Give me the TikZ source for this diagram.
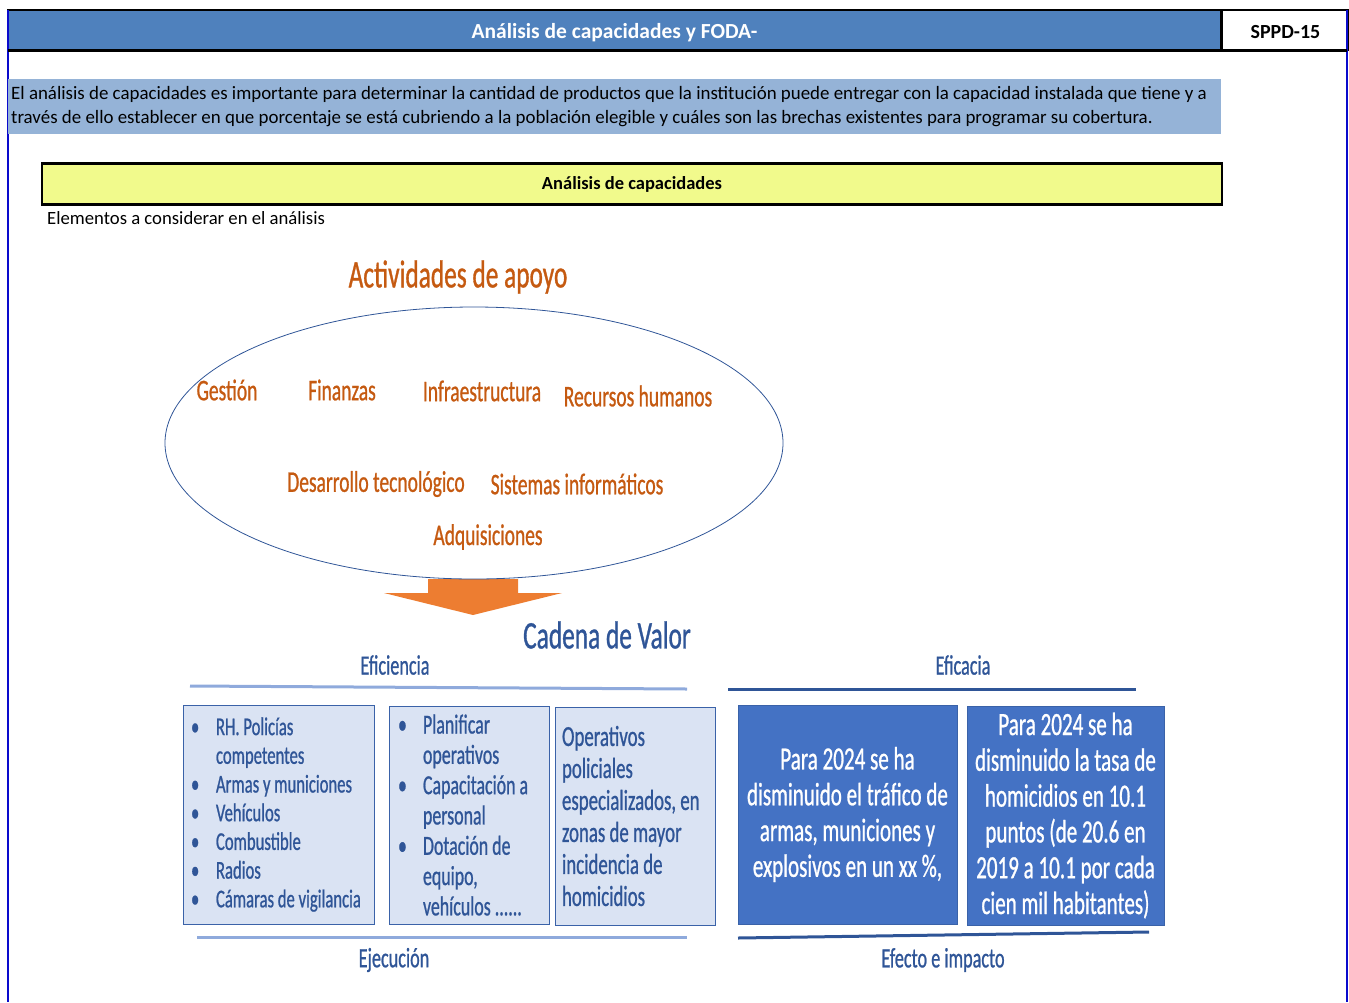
\documentclass[tikz,border=0pt]{standalone}
\usepackage{fontspec}
\setmainfont{Carlito}
\newfontfamily\narrowfont[FakeStretch=0.65,FakeBold=0.8]{Carlito}
\usetikzlibrary{shapes.geometric,positioning}
\definecolor{headblue}{HTML}{4F81BD}
\definecolor{parablue}{HTML}{95B3D7}
\definecolor{yellowfill}{HTML}{F1FA8C}
\definecolor{frameblue}{HTML}{0A0ACC}
\definecolor{orangetxt}{HTML}{C55A11}
\definecolor{arroworange}{HTML}{ED7D31}
\definecolor{ellipseblue}{HTML}{2F5597}
\definecolor{bluetxt}{HTML}{2F5597}
\definecolor{lightline}{HTML}{8FAADC}
\definecolor{lightfill}{HTML}{DAE3F3}
\definecolor{boxline}{HTML}{3A62A8}
\definecolor{darkfill}{HTML}{4472C4}
\newcommand{\itm}{\makebox[25pt][l]{\textbullet}}
\newcommand{\cont}{\hspace*{25pt}}

\begin{document}
\begin{tikzpicture}[x=1pt, y=-1pt,
    cell/.style={draw=black, line width=1.5pt, minimum height=40, inner sep=0, text height=17, text depth=1, font=\bfseries\fontsize{21.5}{24}\selectfont},
    actlabel/.style={text=orangetxt, inner sep=0, font=\narrowfont\fontsize{30}{32}\selectfont},
    valuehead/.style={text=bluetxt, inner sep=0, font=\narrowfont\fontsize{28}{30}\selectfont},
    lightbox/.style={draw=boxline, fill=lightfill, line width=1pt, inner xsep=8, inner ysep=0, align=flush left, text=bluetxt},
    darkbox/.style={draw=boxline, fill=darkfill, line width=1pt, inner sep=0, align=center, text=white, font=\narrowfont\fontsize{32.4}{35.8}\selectfont},
    valueline/.style={line width=3pt}]

\useasboundingbox (0,0) rectangle (1349,1002);

\node[cell, fill=headblue, text=white, minimum width=1213] (title) at (614.5,30) {Análisis de capacidades y FODA-};
\node[cell, fill=white, minimum width=126, right=0pt of title, font=\bfseries\fontsize{20}{24}\selectfont] (code) {SPPD-15};
\draw[frameblue, line width=1.5pt] (8,10) -- (8,1002);
\draw[frameblue, line width=1.5pt] (1347,10) -- (1347,1002);
\draw[black, line width=3pt] (8,50) -- (1347,50);

\node[fill=parablue, anchor=north west, minimum height=55, text width=1207, inner xsep=3, inner ysep=0, align=flush left,
      font=\fontsize{18.9}{24}\selectfont] (intro) at (8,79)
  {El análisis de capacidades es importante para determinar la cantidad de productos que la institución puede entregar con la capacidad instalada que tiene y a\\
   través de ello establecer en que porcentaje se está cubriendo a la población elegible y cuáles son las brechas existentes para programar su cobertura.};

\node[draw, line width=2.5pt, fill=yellowfill, minimum width=1180, minimum height=41, font=\bfseries\fontsize{18.5}{20}\selectfont] (capac) at (632,184) {Análisis de capacidades};
\node[anchor=west, inner sep=0, font=\fontsize{18.7}{20}\selectfont] (elem) at (47,218) {Elementos a considerar en el análisis};

\node[actlabel, font=\narrowfont\fontsize{39}{40}\selectfont] (apoyo) at (458,277) {Actividades de apoyo};

\fill[arroworange] (428,579) -- (518,579) -- (518,593) -- (562,593) -- (473,615) -- (384,593) -- (428,593) -- cycle;
\node[ellipse, draw=ellipseblue, line width=0.8pt, minimum width=618, minimum height=272, inner sep=0] (soporte) at (474,443) {};

\node[actlabel] (gestion) at (227,390) {Gestión};
\node[actlabel] (finanzas) at (342,390) {Finanzas};
\node[actlabel] (infra) at (482,391) {Infraestructura};
\node[actlabel] (rrhh) at (638,396) {Recursos humanos};
\node[actlabel] (desarrollo) at (376,484) {Desarrollo tecnológico};
\node[actlabel] (sistemas) at (577,484) {Sistemas informáticos};
\node[actlabel] (adquis) at (488,537) {Adquisiciones};

\node[valuehead, font=\narrowfont\fontsize{39}{40}\selectfont] (cadena) at (607,635) {Cadena de Valor};
\node[valuehead] (eficiencia) at (395,665) {Eficiencia};
\node[valuehead] (eficacia) at (963,665) {Eficacia};
\node[valuehead] (ejecucion) at (394,960) {Ejecución};
\node[valuehead] (efecto) at (943,960) {Efecto e impacto};

\draw[valueline, lightline] (190,686) -- (687,689);
\draw[valueline, bluetxt] (728,689) -- (1136,689);
\draw[valueline, lightline] (197,937) -- (687,937);
\draw[valueline, bluetxt] (738,938) -- (1149,932);

\node[lightbox, minimum width=191, minimum height=219, text width=175, font=\narrowfont\fontsize{25.6}{28.7}\selectfont] (recursos) at (278.5,814.5)
  {\itm RH. Policías\\
   \cont competentes\\
   \itm Armas y municiones\\
   \itm Vehículos\\
   \itm Combustible\\
   \itm Radios\\
   \itm Cámaras de vigilancia};
\node[lightbox, minimum width=160, minimum height=218, text width=142, inner xsep=9, font=\narrowfont\fontsize{27.5}{30.3}\selectfont] (acciones) at (469,815)
  {\itm Planificar\\
   \cont operativos\\
   \itm Capacitación a\\
   \cont personal\\
   \itm Dotación de\\
   \cont equipo,\\
   \cont vehículos ......};
\node[lightbox, minimum width=160, minimum height=218, text width=146, inner xsep=7, font=\narrowfont\fontsize{29}{32}\selectfont] (operativos) at (635,816)
  {Operativos\\
   policiales\\
   especializados, en\\
   zonas de mayor\\
   incidencia de\\
   homicidios};

\node[darkbox, minimum width=219, minimum height=219] (trafico) at (847.5,814.5)
  {Para 2024 se ha\\
   disminuido el tráfico de\\
   armas, municiones y\\
   explosivos en un xx \%,};
\node[darkbox, minimum width=197, minimum height=219] (homicidios) at (1065.5,815.5)
  {Para 2024 se ha\\
   disminuido la tasa de\\
   homicidios en 10.1\\
   puntos (de 20.6 en\\
   2019 a 10.1 por cada\\
   cien mil habitantes)};

\end{tikzpicture}
\end{document}
